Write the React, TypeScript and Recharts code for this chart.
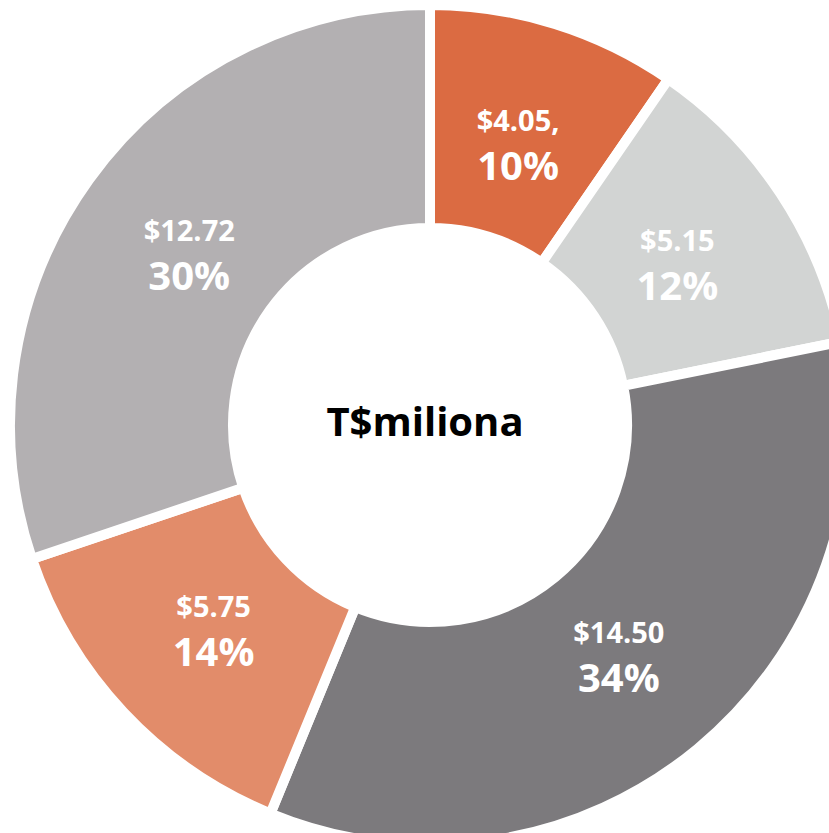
import { PieChart, Pie, Cell } from 'recharts';

const segments = ['A', 'B', 'C', 'D', 'E'];
const values = [4.05, 5.15, 14.5, 5.75, 12.72];
const valueLabels = ['$4.05,', '$5.15', '$14.50', '$5.75', '$12.72'];
const colors = ['#DB6B42', '#D2D4D3', '#7C7A7D', '#E28C6A', '#B3B0B2'];
const centerTitle = 'T$miliona';

const data = segments.map((name, i) => ({ name, value: values[i], label: valueLabels[i] }));

const RADIAN = Math.PI / 180;
const CX = 425;
const CY = 420;

function renderLabel(props: any) {
  const { cx, cy, midAngle, innerRadius, outerRadius, percent, index } = props;
  const r = (innerRadius + outerRadius) / 2 - 12;
  const x = cx + r * Math.cos(-midAngle * RADIAN);
  const y = cy + r * Math.sin(-midAngle * RADIAN);
  return (
    <g>
      <text x={x} y={y - 22} fill="#fff" textAnchor="middle" dominantBaseline="central"
        fontFamily="'Open Sans', sans-serif" fontWeight={700} fontSize={29}>
        {data[index].label}
      </text>
      <text x={x} y={y + 23} fill="#fff" textAnchor="middle" dominantBaseline="central"
        fontFamily="'Open Sans', sans-serif" fontWeight={700} fontSize={40}>
        {Math.round(percent * 100)}%
      </text>
    </g>
  );
}

export default function App() {
  return (
    <div style={{ position: 'absolute', left: 0, top: 0, width: 829, height: 833, background: '#fff' }}>
      <PieChart width={829} height={833}>
        <Pie
          data={data}
          dataKey="value"
          cx={CX}
          cy={CY}
          innerRadius={197}
          outerRadius={420}
          startAngle={90}
          endAngle={-270}
          stroke="#fff"
          strokeWidth={10}
          label={renderLabel}
          labelLine={false}
          isAnimationActive={false}
        >
          {data.map((d, i) => (
            <Cell key={d.name} fill={colors[i]} />
          ))}
        </Pie>
        <text x={CX} y={CY} textAnchor="middle" dominantBaseline="central"
          fontFamily="'Open Sans', sans-serif" fontWeight={700} fontSize={40} fill="#000">
          {centerTitle}
        </text>
      </PieChart>
    </div>
  );
}
